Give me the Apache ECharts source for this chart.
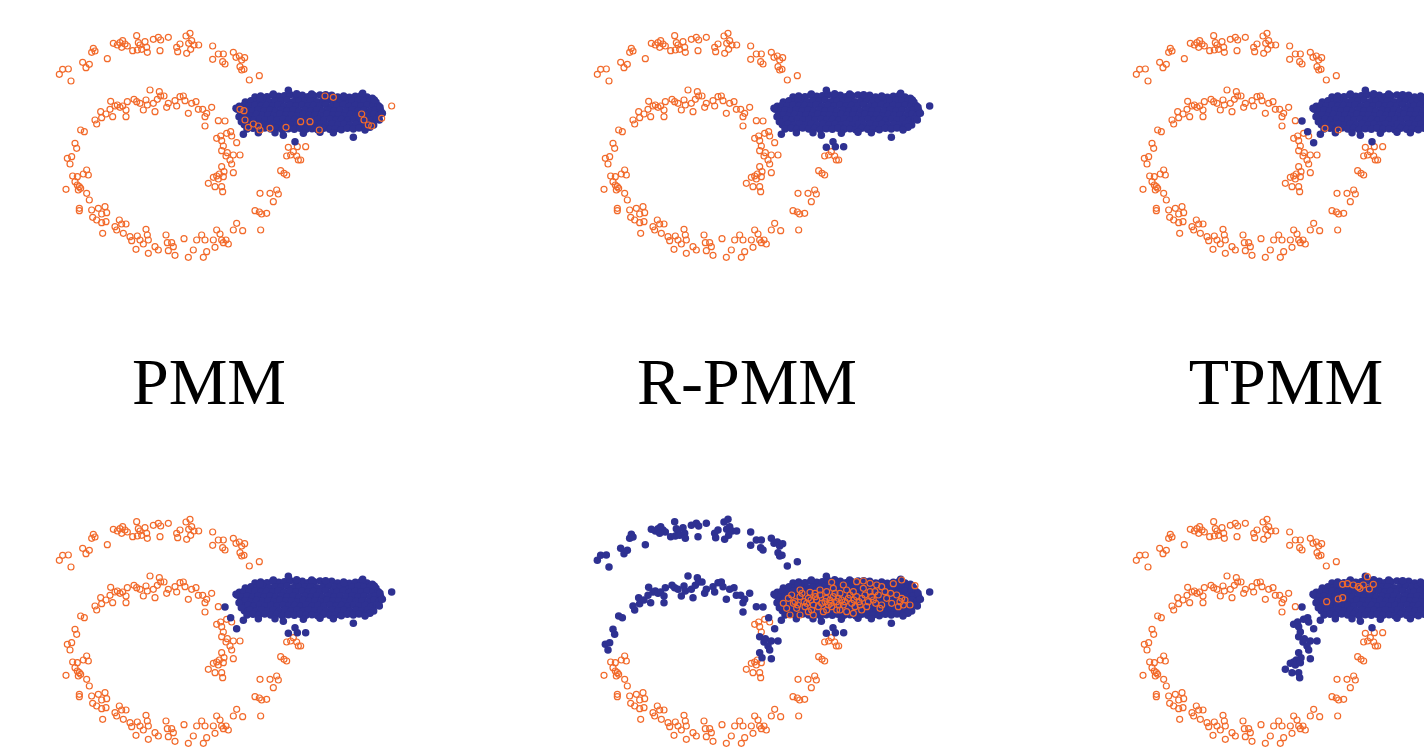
<!DOCTYPE html>
<html>
<head>
<meta charset="utf-8">
<title>PMM / R-PMM / TPMM</title>
<script src="https://cdn.jsdelivr.net/npm/echarts@6/dist/echarts.min.js"></script>
<style>
  html, body { margin: 0; padding: 0; background: #ffffff; }
  #chart { width: 1424px; height: 749px; }
</style>
</head>
<body>
<div id="chart"></div>
<script>
// Method names shown between the two rows of panels
const methods = ['PMM', 'R-PMM', 'TPMM'];

// Source-domain samples (spiral), split into segments along the curve.
// Coordinates are embedding units; y grows downward (inverted axis).
const outerArc = [
  [58,163],[68,148],[85,147],[93,183],[128,127],[138,143],[148,133],[155,97],[160,85],[165,93],
  [202,116],[220,70],[232,75],[240,68],[248,62],[255,72],[262,78],[245,82],[290,47],[295,68],
  [300,75],[278,92],[292,90],[305,88],[320,82],[322,97],[315,65],[340,58],[355,52],[362,60],
  [360,92],[385,52],[410,82],[413,95],[420,72],[438,48],[450,40],[446,70],[455,62],[462,75],
  [476,75],[440,100],[452,88],[518,78],[518,118],[535,102],[550,102],[548,125],[555,132],[580,97],
  [588,112],[598,108],[605,120],[614,113],[600,140],[605,150],[612,148],[628,180],[658,167]
];
const ringUpper = [
  [82,415],[95,410],[90,432],[105,370],[110,385],[122,330],[133,335],[165,300],[170,312],[185,293],
  [182,275],[198,282],[210,268],[212,244],[218,290],[225,258],[232,255],[240,262],[248,258],[258,270],
  [262,245],[258,290],[282,238],[290,245],[300,250],[310,270],[318,240],[322,255],[330,210],[340,250],
  [345,275],[352,238],[358,215],[362,228],[372,228],[380,262],[385,250],[405,242],[410,258],[420,230],
  [430,228],[435,242],[445,280],[455,250],[468,245],[475,268],[488,268],[495,290],[500,280],[495,318],
  [515,262],[535,302]
];
const tailJoin = [[555,303],[572,335],[590,368]];
const tailUpper = [[530,355],[542,348],[560,340],[575,348],[545,362],[550,378]];
const tailMid = [
  [545,392],[558,408],[562,398],[580,405],[600,405],[570,420],[575,432],[545,440],[552,455],[580,458]
];
const tailLower = [[538,462],[530,468],[520,472],[535,477],[550,470],[505,490],[525,500],[545,500],[548,515]];
const ringLower = [
  [98,468],[112,470],[140,450],[145,465],[130,462],[105,485],[112,495],[118,500],[115,510],[122,505],
  [78,508],[140,520],[148,540],[118,565],[118,572],[155,570],[175,565],[185,582],[195,560],[200,578],
  [158,592],[170,600],[185,608],[198,605],[188,640],[225,620],[238,600],[245,612],[258,612],[230,630],
  [250,640],[270,650],[275,662],[292,648],[300,660],[318,628],[322,645],[325,660],[288,688],[310,672],
  [325,700],[345,680],[355,690],[378,645],[382,668],[395,668],[400,680],[405,706],[385,692],[432,656],
  [445,712],[460,690],[470,660],[485,645],[495,660],[500,695],[490,712],[520,660],[525,682],[530,630],
  [540,642],[545,660],[550,668],[558,660],[565,672],[580,630],[590,610],[608,632],[662,630],[645,572],
  [658,576],[665,582],[680,580],[660,520],[690,520],[700,545],[710,510],[715,522],[722,452],[732,460],
  [740,465]
];
const ringRight = [[740,408],[752,405],[760,395],[770,408],[775,420],[782,420]];
const bridge = [[745,382],[772,380],[797,380]];

// Target-domain samples (elongated cluster)
const cluster = [
  [645,231],[662,228],[681,230],[698,226],[716,229],[733,227],[751,224],[768,229],[787,226],[804,230],
  [822,227],[840,225],[857,229],[875,226],[893,231],[911,228],[928,232],[946,229],[964,226],[981,231],[997,235],
  [616,246],[633,242],[652,244],[669,241],[688,245],[706,242],[723,244],[741,240],[759,245],[777,242],
  [795,244],[812,241],[831,245],[849,243],[866,240],[884,244],[902,242],[920,246],[937,243],[955,241],
  [973,244],[991,242],[1008,247],
  [598,259],[612,256],[628,258],[645,255],[663,259],[680,256],[698,258],[715,254],[733,259],[750,256],
  [768,258],[786,255],[804,259],[821,256],[839,258],[857,254],[875,259],[892,257],[910,255],[928,259],
  [946,256],[963,258],[981,255],[999,259],[1015,257],
  [592,268],[606,272],[621,270],[638,273],[655,269],[672,272],[690,270],[707,273],[725,269],[742,272],
  [760,270],[777,273],[795,269],[813,272],[830,270],[848,273],[866,269],[883,272],[901,270],[919,273],
  [937,269],[954,272],[972,270],[990,273],[1007,269],[1022,272],
  [601,286],[616,284],[633,287],[650,283],[668,286],[685,284],[703,287],[720,283],[738,286],[755,284],
  [773,287],[790,283],[808,286],[826,284],[843,287],[861,283],[879,286],[896,284],[914,287],[932,283],
  [949,286],[967,284],[985,287],[1002,283],[1018,286],
  [606,300],[624,298],[641,301],[659,297],[676,300],[694,298],[711,301],[729,297],[746,300],[764,298],
  [782,301],[799,297],[817,300],[835,298],[852,301],[870,297],[888,300],[905,298],[923,301],[941,297],
  [958,300],[976,298],[994,301],[1010,297],
  [613,314],[630,312],[648,315],[665,311],[683,314],[700,312],[718,315],[736,311],[753,314],[771,312],
  [789,315],[806,311],[824,314],[842,312],[859,315],[877,311],[895,314],[912,312],[930,315],[948,311],
  [965,314],[983,312],[1001,315],
  [621,327],[639,325],[656,328],[674,324],[692,327],[710,325],[727,329],[745,326],[763,328],[780,325],
  [798,328],[816,326],[833,329],[851,325],[869,328],[887,326],[904,329],[922,325],[940,327],[957,324],
  [975,326],[990,322],
  [745,211],[700,222],[770,221],[815,222],[857,224],[912,231],[968,220],[1003,240],[660,233],[588,265],
  [597,290],[604,305],[610,343],[655,338],[705,338],[730,346],[765,365],[790,340],[840,337],[880,338],
  [940,352],[975,330],[1020,262],[1027,280],[1018,300]
];
const clusterOutlier = [[1055,258]];

// Source samples lying inside the target cluster, per panel
const pmmInside = [
  [600,268],[612,272],[615,300],[625,322],[640,312],[655,318],[660,330],[690,325],[738,322],[782,305],
  [810,305],[838,330],[855,228],[880,232],[965,282],[972,300],[985,315],[995,318],[1025,295],[1055,258]
];
const tpmmInside = [[624,325],[664,330]];
const rpmmInside2 = [
  [761,229],[796,237],[836,227],[856,225],[876,232],[896,237],[911,242],[946,233],[971,222],[1011,239],
  [631,277],[646,292],[656,307],[666,272],[678,287],[691,277],[706,297],[716,282],[726,267],[741,287],
  [751,297],[766,272],[776,287],[786,262],[796,297],[811,277],[821,292],[836,272],[846,297],[861,267],
  [871,287],[886,282],[901,267],[911,297],[926,277],[941,292],[956,267],[966,287],[981,282],[996,297],
  [876,257],[806,252],[746,257],[696,259],[626,307],[636,327],[666,327],[706,327],[826,322],[736,317],
  [776,312],[806,317],[906,307],[971,277],[976,297],[666,252],[726,252],[856,247],[921,257],[766,247],
  [651,287],[681,302],[721,302],[761,302],[791,282],[831,302],[691,317],[756,282],
  [641,267],[659,297],[672,262],[686,292],[699,282],[712,272],[731,292],[745,277],[758,292],[771,262],
  [783,297],[801,287],[816,267],[828,282],[843,287],[852,277],[866,302],[881,272],[893,292],[616,292],
  [701,312],[746,312],[786,312],[851,312],[711,262],[781,277],[826,257],[891,257],[938,262],[961,302]
];
const tpmmInside2 = [
  [751,212],[677,235],[691,233],[709,237],[724,242],[739,237],[757,249],[769,235],[629,287],[664,279],
  [677,275],[729,247]
];

const ORANGE = '#F26A2B';
const BLUE = '#2E3192';

// Panel layout: 3 columns x 2 rows; the third column and the lower row
// run past the page edge, so their visible extent is cut at the border.
const colLeft = [40, 578, 1117];
const colWidth = [370, 370, 307];
const rowTop = [20, 506];
const rowHeight = [250, 243];
const UNITS_PER_PX = 3;

// Which segments are drawn in which class, for each panel
const panels = [
  { // PMM (top)
    orange: [outerArc, ringUpper, tailJoin, tailUpper, tailMid, tailLower, ringLower, ringRight, bridge],
    blue: [cluster],
    inside: [pmmInside]
  },
  { // R-PMM (top)
    orange: [outerArc, ringUpper, tailJoin, tailUpper, tailMid, tailLower, ringLower, ringRight],
    blue: [cluster, clusterOutlier, bridge],
    inside: []
  },
  { // TPMM (top)
    orange: [outerArc, ringUpper, tailUpper, tailMid, tailLower, ringLower, ringRight, bridge],
    blue: [cluster, clusterOutlier, tailJoin],
    inside: [tpmmInside]
  },
  { // bottom row, left
    orange: [outerArc, ringUpper, tailUpper, tailMid, tailLower, ringLower, ringRight],
    blue: [cluster, clusterOutlier, tailJoin, bridge],
    inside: []
  },
  { // bottom row, middle
    orange: [tailUpper, tailLower, ringLower, ringRight],
    blue: [cluster, clusterOutlier, outerArc, ringUpper, tailJoin, tailMid, bridge],
    inside: [rpmmInside2]
  },
  { // bottom row, right
    orange: [outerArc, ringUpper, ringLower, ringRight, bridge],
    blue: [cluster, clusterOutlier, tailJoin, tailUpper, tailMid, tailLower],
    inside: [tpmmInside2]
  }
];

const grids = [], xAxes = [], yAxes = [], series = [];
panels.forEach((p, i) => {
  const row = Math.floor(i / 3), col = i % 3;
  const w = colWidth[col], h = rowHeight[row];
  grids.push({ left: colLeft[col], top: rowTop[row], width: w, height: h, containLabel: false });
  xAxes.push({ gridIndex: i, type: 'value', min: 0, max: w * UNITS_PER_PX, show: false });
  yAxes.push({ gridIndex: i, type: 'value', min: 0, max: h * UNITS_PER_PX, inverse: true, show: false });
  const hollow = {
    symbol: 'circle', symbolSize: 6,
    itemStyle: { color: 'rgba(255,255,255,0)', borderColor: ORANGE, borderWidth: 1.2, opacity: 1 }
  };
  series.push(Object.assign({
    type: 'scatter', xAxisIndex: i, yAxisIndex: i, z: 2, silent: true, clip: false,
    data: [].concat(...p.orange)
  }, hollow));
  series.push({
    type: 'scatter', xAxisIndex: i, yAxisIndex: i, z: 3, silent: true, clip: false,
    symbol: 'circle', symbolSize: 7.5,
    itemStyle: { color: BLUE, borderWidth: 0, opacity: 1 },
    data: [].concat(...p.blue)
  });
  if (p.inside.length) {
    series.push(Object.assign({
      type: 'scatter', xAxisIndex: i, yAxisIndex: i, z: 4, silent: true, clip: false,
      data: [].concat(...p.inside)
    }, hollow));
  }
});

const labelX = [209, 747, 1286];
const graphic = methods.map((m, k) => ({
  type: 'text',
  x: labelX[k],
  y: 354,
  style: {
    text: m,
    x: 0, y: 0,
    align: 'center',
    verticalAlign: 'top',
    fill: '#000000',
    font: '66px "Liberation Serif", "DejaVu Serif", serif'
  }
}));

const chart = echarts.init(document.getElementById('chart'), null, { renderer: 'canvas' });
chart.setOption({
  backgroundColor: '#ffffff',
  animation: false,
  grid: grids,
  xAxis: xAxes,
  yAxis: yAxes,
  series: series,
  graphic: graphic
});
</script>
</body>
</html>
